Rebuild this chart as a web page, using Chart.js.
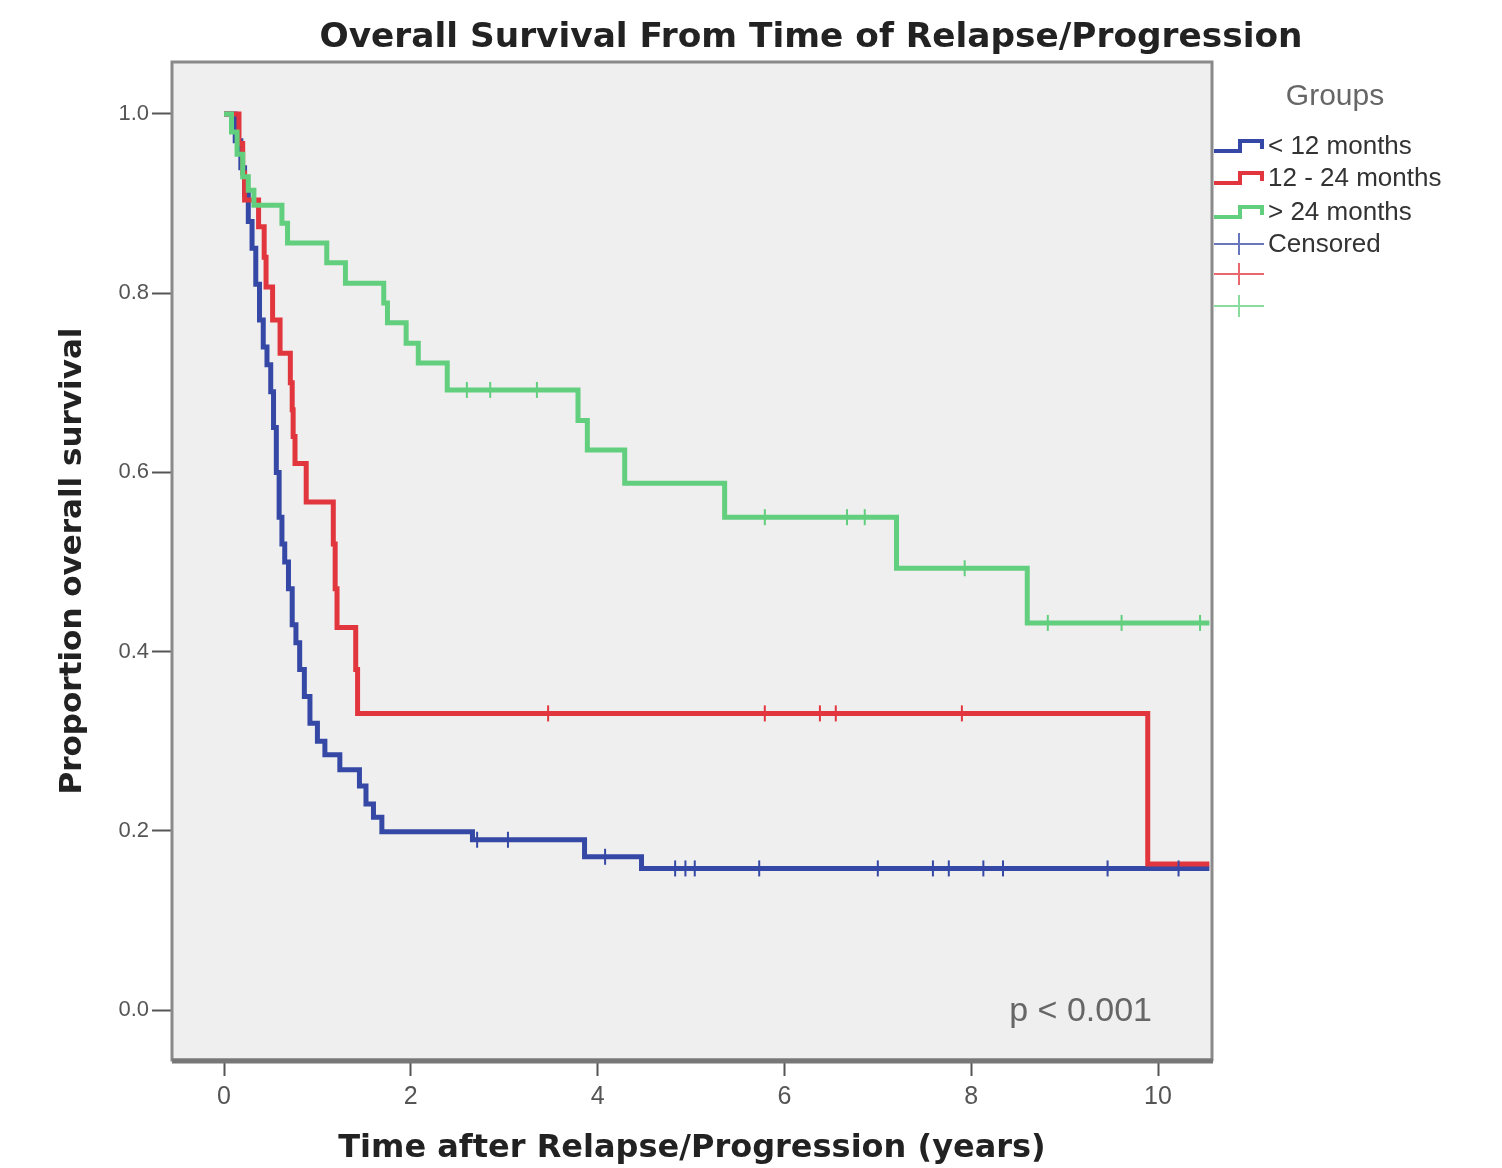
<!DOCTYPE html>
<html>
<head>
<meta charset="utf-8">
<script src="https://cdn.jsdelivr.net/npm/chart.js@4"></script>
<style>
  body { margin: 0; background: #ffffff; }
  #wrap { width: 1502px; height: 1168px; }
</style>
</head>
<body>
<div id="wrap"><canvas id="kmCanvas"></canvas></div>
<script>
// Kaplan-Meier estimates: event times (years) and survival after each event
const blueTimes = [0, 0.06, 0.12, 0.18, 0.22, 0.26, 0.30, 0.34, 0.38, 0.42, 0.46, 0.50, 0.53, 0.56, 0.59, 0.62, 0.65, 0.69, 0.73, 0.77, 0.81, 0.86, 0.92, 1.00, 1.08, 1.24, 1.45, 1.52, 1.60, 1.69, 2.66, 3.86, 4.47];
const blueSurv  = [1.0, 1.0, 0.97, 0.94, 0.91, 0.88, 0.85, 0.81, 0.77, 0.74, 0.72, 0.69, 0.65, 0.60, 0.55, 0.52, 0.50, 0.47, 0.43, 0.41, 0.38, 0.35, 0.32, 0.30, 0.285, 0.268, 0.25, 0.23, 0.215, 0.199, 0.19, 0.171, 0.158];

const redTimes = [0, 0.12, 0.16, 0.20, 0.22, 0.37, 0.43, 0.45, 0.52, 0.60, 0.71, 0.73, 0.74, 0.76, 0.88, 1.17, 1.19, 1.21, 1.41, 1.43, 9.89];
const redSurv  = [1.0, 1.0, 0.967, 0.934, 0.904, 0.874, 0.84, 0.807, 0.77, 0.733, 0.70, 0.67, 0.64, 0.61, 0.567, 0.52, 0.47, 0.427, 0.38, 0.331, 0.163];

const greenTimes = [0, 0.08, 0.14, 0.20, 0.26, 0.32, 0.62, 0.68, 1.10, 1.30, 1.71, 1.75, 1.95, 2.08, 2.39, 3.79, 3.89, 4.29, 5.36, 7.20, 8.60];
const greenSurv  = [1.0, 0.98, 0.955, 0.93, 0.915, 0.898, 0.878, 0.856, 0.834, 0.811, 0.789, 0.767, 0.744, 0.722, 0.692, 0.658, 0.625, 0.588, 0.55, 0.493, 0.432];

// censoring times (years)
const blueCensor  = [2.71, 3.04, 4.08, 4.83, 4.94, 5.04, 5.73, 7.00, 7.59, 7.76, 8.13, 8.34, 9.46, 10.22];
const redCensor   = [3.47, 5.79, 6.38, 6.55, 7.90];
const greenCensor = [2.60, 2.85, 3.35, 5.79, 6.67, 6.86, 7.93, 8.82, 9.61, 10.45];

const groupLabels = ['< 12 months', '12 - 24 months', '> 24 months'];
const yTicks = [0, 0.2, 0.4, 0.6, 0.8, 1.0];
const xTicks = [0, 2, 4, 6, 8, 10];
const followUpEnd = 10.55;

const BLUE = '#3548a6';
const RED = '#e2363e';
const GREEN = '#62cf7e';
const BOLD_FONT = '"DejaVu Sans", "Liberation Sans", Arial, sans-serif';
const PLAIN_FONT = '"Liberation Sans", Arial, sans-serif';

function stepPoints(times, surv) {
  const pts = times.map((t, i) => ({x: t, y: surv[i]}));
  pts.push({x: followUpEnd, y: surv[surv.length - 1]});
  return pts;
}

function survAt(times, surv, t) {
  let s = 1;
  for (let i = 0; i < times.length; i++) {
    if (times[i] <= t) s = surv[i];
  }
  return s;
}

function censorPoints(cens, times, surv) {
  return cens.map(t => ({x: t, y: survAt(times, surv, t)}));
}

function curve(label, pts, color, order) {
  return {
    label: label,
    data: pts,
    showLine: true,
    stepped: 'before',
    borderColor: color,
    borderWidth: 5,
    pointRadius: 0,
    order: order
  };
}

function ticksSet(label, pts, color, order) {
  return {
    label: label,
    data: pts,
    showLine: false,
    pointStyle: 'line',
    rotation: 90,
    pointRadius: 8,
    pointBorderWidth: 2,
    borderColor: color,
    backgroundColor: color,
    order: order
  };
}

// text squeezed or stretched horizontally to a given width
function fitText(ctx, text, cx, cy, width) {
  const w = ctx.measureText(text).width;
  ctx.save();
  ctx.translate(cx, cy);
  ctx.scale(width / w, 1);
  ctx.fillText(text, 0, 0);
  ctx.restore();
}

// plot background, frame, title, p value and the group legend
const decorations = {
  id: 'decorations',
  beforeDatasetsDraw(chart) {
    const {ctx, chartArea: a} = chart;
    ctx.save();
    ctx.fillStyle = '#efefef';
    ctx.fillRect(a.left, a.top, a.right - a.left, a.bottom - a.top);
    ctx.restore();
  },
  afterDraw(chart) {
    const {ctx, chartArea: a} = chart;
    ctx.save();
    ctx.strokeStyle = '#8a8a8a';
    ctx.lineWidth = 3;
    ctx.strokeRect(a.left, a.top, a.right - a.left, a.bottom - a.top);
    ctx.strokeStyle = '#777777';
    ctx.lineWidth = 5;
    ctx.beginPath();
    ctx.moveTo(a.left, a.bottom + 1);
    ctx.lineTo(a.right + 1, a.bottom + 1);
    ctx.stroke();

    ctx.fillStyle = '#222222';
    ctx.font = 'bold 33px ' + BOLD_FONT;
    ctx.textAlign = 'center';
    ctx.textBaseline = 'middle';
    fitText(ctx, 'Overall Survival From Time of Relapse/Progression', 811, 38, 983);

    ctx.fillStyle = '#666666';
    ctx.font = '34px ' + PLAIN_FONT;
    ctx.textAlign = 'right';
    ctx.textBaseline = 'alphabetic';
    ctx.fillText('p < 0.001', a.right - 60, 1021);

    // legend
    const lx = a.right + 2;
    ctx.fillStyle = '#666666';
    ctx.font = '30px ' + PLAIN_FONT;
    ctx.textAlign = 'center';
    ctx.textBaseline = 'middle';
    ctx.fillText('Groups', 1335, 97);

    const colors = [BLUE, RED, GREEN];
    const rowY = [146, 178, 212];
    ctx.font = '26px ' + PLAIN_FONT;
    ctx.textAlign = 'left';
    ctx.lineWidth = 4;
    colors.forEach((c, i) => {
      const y = rowY[i];
      ctx.strokeStyle = c;
      ctx.beginPath();
      ctx.moveTo(lx, y + 5);
      ctx.lineTo(lx + 26, y + 5);
      ctx.lineTo(lx + 26, y - 5);
      ctx.lineTo(lx + 48, y - 5);
      ctx.lineTo(lx + 48, y + 3);
      ctx.stroke();
      ctx.fillStyle = '#333333';
      ctx.fillText(groupLabels[i], lx + 54, y + 1);
    });

    const censY = [244, 274, 306];
    ctx.lineWidth = 2;
    colors.forEach((c, i) => {
      const y = censY[i];
      ctx.strokeStyle = c;
      ctx.globalAlpha = 0.75;
      ctx.beginPath();
      ctx.moveTo(lx, y);
      ctx.lineTo(lx + 50, y);
      ctx.moveTo(lx + 25, y - 11);
      ctx.lineTo(lx + 25, y + 11);
      ctx.stroke();
    });
    ctx.globalAlpha = 1;
    ctx.fillStyle = '#333333';
    ctx.fillText('Censored', lx + 54, censY[0] + 1);
    ctx.restore();
  }
};

const kmCanvas = document.getElementById('kmCanvas');

const kmChart = new Chart(kmCanvas, {
  type: 'scatter',
  data: {
    datasets: [
      curve(groupLabels[0], stepPoints(blueTimes, blueSurv), BLUE, 6),
      curve(groupLabels[1], stepPoints(redTimes, redSurv), RED, 5),
      curve(groupLabels[2], stepPoints(greenTimes, greenSurv), GREEN, 4),
      ticksSet('Censored', censorPoints(blueCensor, blueTimes, blueSurv), BLUE, 3),
      ticksSet('', censorPoints(redCensor, redTimes, redSurv), RED, 2),
      ticksSet('', censorPoints(greenCensor, greenTimes, greenSurv), GREEN, 1)
    ]
  },
  options: {
    responsive: true,
    maintainAspectRatio: false,
    animation: false,
    devicePixelRatio: 1,
    layout: {
      padding: {left: 0, top: 62, right: 290, bottom: 0}
    },
    plugins: {
      legend: {display: false},
      tooltip: {enabled: false}
    },
    scales: {
      x: {
        type: 'linear',
        min: -0.557,
        max: 10.578,
        afterFit: scale => { scale.height = 108; },
        afterBuildTicks: scale => { scale.ticks = xTicks.map(v => ({value: v})); },
        ticks: {
          color: '#555555',
          padding: 6,
          font: {family: PLAIN_FONT, size: 25}
        },
        grid: {
          drawOnChartArea: false,
          drawTicks: true,
          tickLength: 16,
          tickWidth: 2,
          tickColor: '#555555'
        },
        border: {display: false},
        title: {
          display: true,
          text: 'Time after Relapse/Progression (years)',
          color: '#222222',
          padding: {top: 0, bottom: 0},
          font: {family: BOLD_FONT, size: 32, weight: 'bold'}
        }
      },
      y: {
        type: 'linear',
        min: -0.0558,
        max: 1.058,
        afterFit: scale => { scale.width = 172; },
        afterBuildTicks: scale => { scale.ticks = yTicks.map(v => ({value: v})); },
        ticks: {
          color: '#555555',
          padding: 3,
          font: {family: PLAIN_FONT, size: 22},
          callback: v => v.toFixed(1)
        },
        grid: {
          drawOnChartArea: false,
          drawTicks: true,
          tickLength: 20,
          tickWidth: 2,
          tickColor: '#555555'
        },
        border: {display: false},
        title: {
          display: true,
          text: 'Proportion overall survival',
          color: '#222222',
          padding: {top: 54, bottom: 0},
          font: {family: BOLD_FONT, size: 31, weight: 'bold'}
        }
      }
    }
  },
  plugins: [decorations]
});
</script>
</body>
</html>
